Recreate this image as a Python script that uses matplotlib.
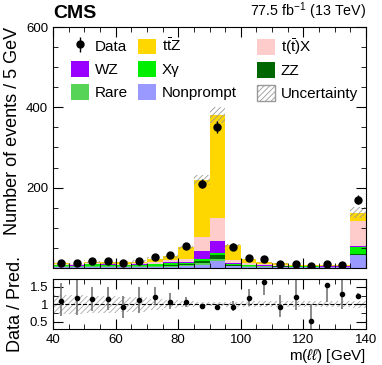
import numpy as np
import matplotlib
matplotlib.use('Agg')
import matplotlib.pyplot as plt
from matplotlib.patches import Patch, Rectangle
from matplotlib.legend import Legend
from matplotlib.legend_handler import HandlerPatch
from matplotlib.ticker import MultipleLocator

plt.rcParams['font.family'] = ['Liberation Sans', 'DejaVu Sans']
plt.rcParams['mathtext.fontset'] = 'custom'
plt.rcParams['mathtext.rm'] = 'Liberation Sans'
plt.rcParams['mathtext.it'] = 'Liberation Sans:italic'
plt.rcParams['hatch.linewidth'] = 0.6

# bins: 40-140 GeV in 5 GeV steps
edges = np.arange(40, 145, 5)
centers = edges[:-1] + 2.5

# backgrounds, bottom to top
nonprompt = [3, 2.5, 3, 3, 2.5, 3, 3, 3.5, 4, 8, 16, 4, 3, 2.5, 2, 1.5, 1.5, 1.5, 1.5, 31]
rare = [2, 1.5, 2, 2, 2, 2, 2, 2.5, 3, 4, 5, 2, 1.5, 1.5, 1.5, 1, 1, 0.8, 0.8, 2]
zz = [0.5, 0.5, 0.5, 0.5, 0.5, 0.5, 0.7, 1, 2, 5, 10, 1, 0.5, 0.3, 0.3, 0.2, 0.2, 0.2, 0.2, 1]
xgamma = [2, 1.5, 3.5, 2.5, 2.5, 2.5, 4, 5, 3, 4, 5, 1.5, 1.5, 1.5, 1.5, 1, 1.2, 1, 1, 19]
wz = [0.5, 0.5, 0.8, 0.5, 0.8, 0.8, 1, 1.5, 3, 20, 31, 3, 1, 0.7, 0.5, 0.5, 0.5, 0.4, 0.3, 1]
ttx = [1.5, 2, 2, 2, 2, 2.5, 4, 5, 8, 35, 58, 8, 3.5, 2.5, 2, 1.5, 1.5, 1.2, 1.2, 62]
ttz = [1.5, 2, 4, 3.5, 4, 4, 8, 10.5, 28.4, 143, 256, 37, 10.4, 5, 3.2, 1.7, 1.8, 1.3, 1.2, 22]

# relative uncertainty of the prediction
rel_unc = [0.28, 0.27, 0.25, 0.25, 0.22, 0.22, 0.16, 0.12, 0.08, 0.055,
           0.055, 0.07, 0.08, 0.09, 0.09, 0.09, 0.09, 0.09, 0.09, 0.1]

# observed data
data = [12, 12.5, 18, 16, 13, 17, 27.5, 31, 54, 210, 350, 52.5, 25, 23, 10, 9, 4, 10, 8, 170]
ratio_lo = [0.65, 0.69, 0.80, 0.83, 0.60, 0.76, 0.98, 0.85, 0.92, 0.91,
            0.88, 0.80, 0.94, 1.28, 0.63, 0.83, 0.24, 1.05, 0.87, 1.15]
ratio_hi = [1.60, 1.80, 1.51, 1.51, 1.24, 1.51, 1.49, 1.33, 1.22, 1.01,
            0.96, 1.10, 1.45, 1.90, 1.26, 1.80, 1.00, 1.60, 1.69, 1.31]

TTZ = r'$\mathrm{t\bar{t}Z}$'
TTX = r'$\mathrm{t(\bar{t})X}$'
samples = [
    ('Nonprompt', nonprompt, '#9999ff'),
    ('Rare', rare, '#55d455'),
    ('ZZ', zz, '#006600'),
    ('X\u03b3', xgamma, '#00ee00'),
    ('WZ', wz, '#9900ff'),
    (TTX, ttx, '#ffcccc'),
    (TTZ, ttz, '#ffd700'),
]

fig = plt.figure(figsize=(3.82, 3.65), dpi=100)
ax = fig.add_axes([0.139, 0.266, 0.819, 0.660])
rax = fig.add_axes([0.139, 0.098, 0.819, 0.137])

bottom = np.zeros(len(centers))
handles = {}
for name, vals, col in samples:
    vals = np.array(vals, dtype=float)
    ax.bar(centers, vals, width=5, bottom=bottom, color=col, linewidth=0)
    handles[name] = Patch(facecolor=col, edgecolor='none', label=name)
    bottom += vals
total = bottom

unc = total * np.array(rel_unc)
ax.bar(centers, 2 * unc, width=5, bottom=total - unc, fill=False,
       hatch='//////', edgecolor='#999999', linewidth=0)

data = np.array(data)
ratio = data / total
rlo = ratio - np.array(ratio_lo)
rhi = np.array(ratio_hi) - ratio
data_handle = ax.errorbar(centers, data, yerr=[rlo * total, rhi * total], fmt='o',
                          color='black', markersize=5, elinewidth=1, capsize=0, label='Data')

ax.set_xlim(40, 140)
ax.set_ylim(0, 600)
ax.set_yticks([200, 400, 600])
ax.yaxis.set_minor_locator(MultipleLocator(50))
ax.xaxis.set_major_locator(MultipleLocator(20))
ax.xaxis.set_minor_locator(MultipleLocator(5))
ax.tick_params(labelbottom=False)
ax.set_ylabel('Number of events / 5 GeV', fontsize=13, loc='top')


def box(legend, orig_handle, xdescent, ydescent, width, height, fontsize):
    h = 1.03 * fontsize
    return Rectangle((-xdescent, -ydescent + (height - h) / 2), width, h)


unc_handle = Patch(facecolor='white', edgecolor='#999999', hatch='//////', label='Uncertainty')
columns = [
    ([data_handle, handles['WZ'], handles['Rare']], 0.0575),
    ([handles[TTZ], handles['X\u03b3'], handles['Nonprompt']], 0.2716),
    ([handles[TTX], handles['ZZ'], unc_handle], 0.6518),
]
for hs, x0 in columns:
    leg = Legend(ax, hs, [h.get_label() for h in hs], frameon=False, fontsize=11,
                 loc='upper left', bbox_to_anchor=(x0, 0.958), borderpad=0, borderaxespad=0,
                 handlelength=1.2, handleheight=1.5, handletextpad=0.35, labelspacing=0.26,
                 handler_map={Patch: HandlerPatch(patch_func=box)})
    ax.add_artist(leg)

fig.text(0.139, 0.94, 'CMS', fontsize=14, fontweight='bold', ha='left', va='bottom')
fig.text(0.958, 0.94, r'77.5 fb$^{-1}$ (13 TeV)', fontsize=10.3, ha='right', va='bottom')

# ratio panel
rel = np.array(rel_unc)
rax.bar(centers, 2 * rel, width=5, bottom=1 - rel, fill=False,
        hatch='//////', edgecolor='#aaaaaa', linewidth=0)
rax.axhline(1, color='black', linestyle='--', linewidth=0.8)
rax.errorbar(centers, ratio, yerr=[rlo, rhi], fmt='o', color='black', ecolor='#777777',
             markersize=3, elinewidth=1.2, capsize=0)
rax.set_xlim(40, 140)
rax.set_ylim(0.28, 1.72)
rax.set_yticks([0.5, 1, 1.5])
rax.set_yticklabels(['0.5', '1', '1.5'])
rax.yaxis.set_minor_locator(MultipleLocator(0.25))
rax.xaxis.set_major_locator(MultipleLocator(20))
rax.xaxis.set_minor_locator(MultipleLocator(5))
rax.set_ylabel('Data / Pred.', fontsize=13)
rax.set_xlabel(r'm($\ell\ell$) [GeV]', fontsize=11, loc='right', labelpad=1)

for a in (ax, rax):
    a.tick_params(which='both', direction='in', top=True, right=True, labelsize=9.5)
    a.tick_params(which='major', length=7)
    a.tick_params(which='minor', length=3.5)

fig.align_ylabels([ax, rax])
fig.savefig('out.png', dpi=100)
